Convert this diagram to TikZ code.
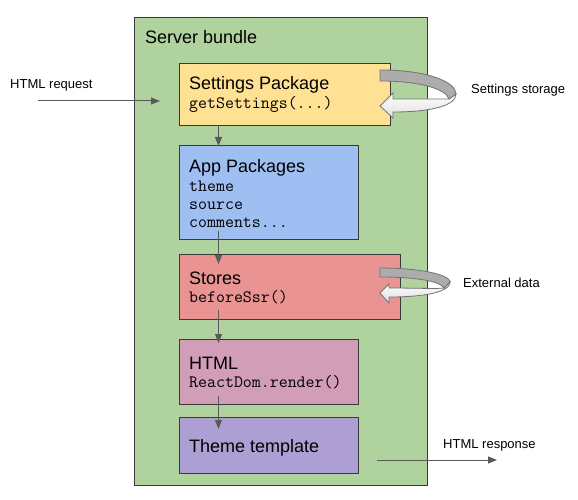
\documentclass[tikz,border=0pt]{standalone}
\usepackage{fontspec}
\setmainfont{Liberation Sans}
\usetikzlibrary{arrows.meta}
\definecolor{cgreen}{HTML}{AFD29E}
\definecolor{cyellow}{HTML}{FFE194}
\definecolor{cblue}{HTML}{9FBFF2}
\definecolor{cred}{HTML}{E99393}
\definecolor{cpink}{HTML}{D19DB7}
\definecolor{cpurple}{HTML}{AD9FD3}
\definecolor{cline}{HTML}{595959}
\definecolor{cborder}{HTML}{3A3A3A}
\begin{document}
\begin{tikzpicture}[x=1pt,y=-1pt,
  box/.style={draw=cborder, line width=1pt, rectangle, anchor=north west, inner sep=0pt},
  title/.style={anchor=base west, inner sep=0pt, font=\fontsize{18}{20}\selectfont},
  code/.style={anchor=base west, inner sep=0pt, font=\ttfamily\fontsize{17.4}{18}\selectfont},
  lbl/.style={anchor=base west, inner sep=0pt, font=\fontsize{13}{15}\selectfont},
  arr/.style={draw=cline, line width=1pt, -{Triangle[length=9pt,width=7pt]}},
  ribdark/.style={fill=gray!65, draw=gray!90!black, line width=0.8pt},
  riblight/.style={top color=white, bottom color=gray!25, draw=gray!90!black, line width=0.8pt}]
\useasboundingbox (0,0) rectangle (578,500);
\fill[white] (0,0) rectangle (578,500);
% boxes
\node[box, fill=cgreen, line width=1.3pt, minimum width=293pt, minimum height=468pt] (bundle) at (134,17) {};
\node[box, fill=cyellow, minimum width=211pt, minimum height=62pt] (set) at (179,63) {};
\node[box, fill=cblue, minimum width=179pt, minimum height=94pt] (app) at (179,145) {};
\node[box, fill=cred, minimum width=221pt, minimum height=65pt] (sto) at (179,254) {};
\node[box, fill=cpink, minimum width=179pt, minimum height=65pt] (html) at (179,339) {};
\node[box, fill=cpurple, minimum width=179pt, minimum height=56pt] (theme) at (179,417) {};
% texts
\node[title] (tb) at (145,44) {Server bundle};
\node[title] (t1) at (189,90) {Settings Package};
\node[code] (c1) at (189,108.5) {getSettings(...)};
\node[title] (t2) at (189,172) {App Packages};
\node[code] (c2a) at (189,191) {theme};
\node[code] (c2b) at (189,209) {source};
\node[code] (c2c) at (189,227) {comments...};
\node[title] (t3) at (189,284) {Stores};
\node[code] (c3) at (189,302.5) {beforeSsr()};
\node[title] (t4) at (189,369) {HTML};
\node[code] (c4) at (189,387.5) {ReactDom.render()};
\node[title] (t5) at (189,452) {Theme template};
\node[lbl] (l1) at (10,89) {HTML request};
\node[lbl] (l2) at (443,448) {HTML response};
\node[lbl] (l3) at (471,94) {Settings storage};
\node[lbl] (l4) at (463,287) {External data};
% vertical connectors
\coordinate (ax) at (218.5,0);
\draw[arr] (set.south -| ax) -- ([yshift=-1pt]app.north -| ax);
\draw[arr] ([yshift=9pt]app.south -| ax) -- ([yshift=-10pt]sto.north -| ax);
\draw[arr] ([yshift=10pt]sto.south -| ax) -- ([yshift=-4pt]html.north -| ax);
\draw[arr] ([yshift=9pt]html.south -| ax) -- ([yshift=-12pt]theme.north -| ax);
% request / response
\coordinate (rq0) at (38,101);
\coordinate (rq1) at (160,101);
\draw[arr] (rq0) -- (rq1);
\coordinate (rs0) at (377,460);
\coordinate (rs1) at (497,460);
\draw[arr] (rs0) -- (rs1);
% settings storage ribbon
\path[riblight] (456,94) .. controls (456,106) and (430,112) .. (393,112) -- (393,118) -- (380,106) -- (393,93) -- (393,99) .. controls (420,99) and (442,99) .. (449,99) -- cycle;
\path[ribdark] (380,70) .. controls (428,70) and (456,82) .. (456,94) -- (449,99) .. controls (446,89) and (420,81) .. (380,81) -- cycle;
% external data ribbon
\path[riblight] (450,282) .. controls (450,292) and (425,297) .. (389,297) -- (389,303) -- (380,293) -- (389,284) -- (389,288) .. controls (415,288) and (438,289) .. (444,288) -- cycle;
\path[ribdark] (380,268) .. controls (422,268) and (450,275) .. (450,282) -- (444,288) .. controls (440,281) and (415,277) .. (380,277) -- cycle;
\end{tikzpicture}
\end{document}
